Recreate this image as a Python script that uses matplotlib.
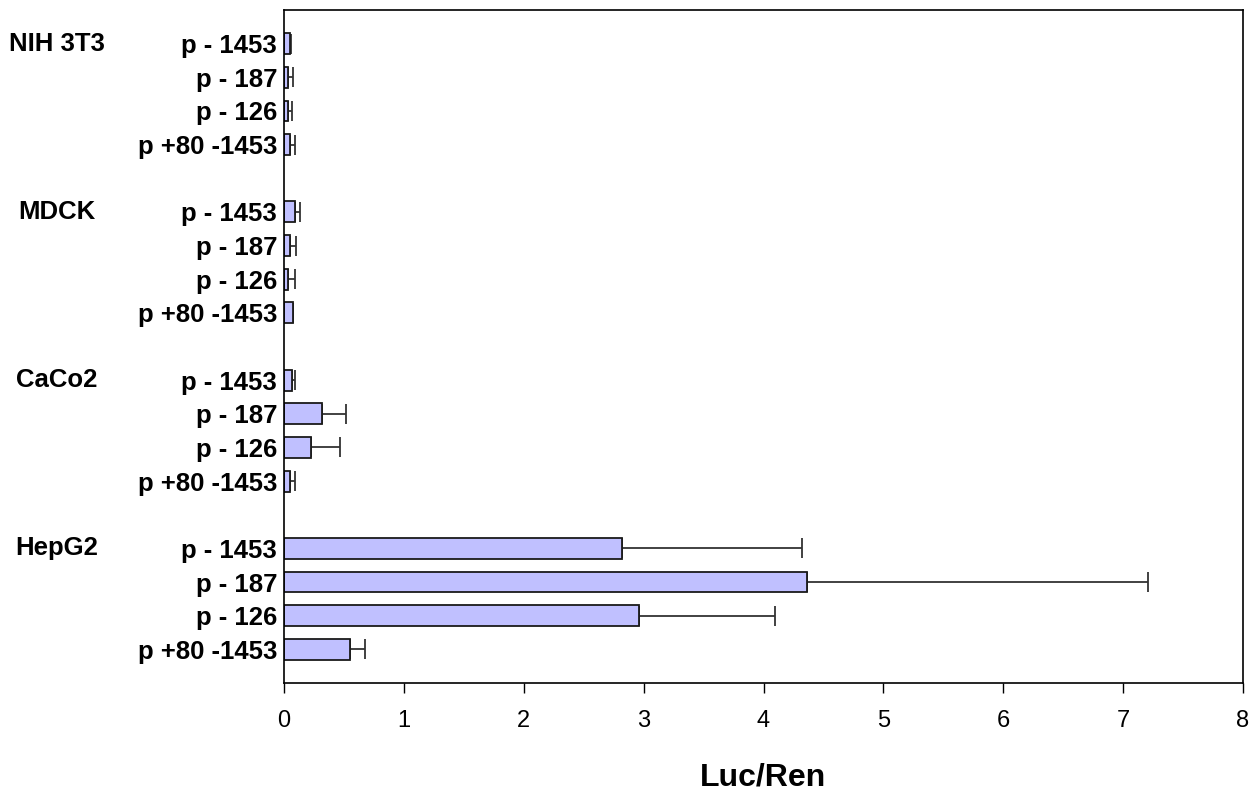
import numpy as np
import matplotlib
matplotlib.use('Agg')
import matplotlib.pyplot as plt
import matplotlib.transforms as mtransforms

plt.rcParams['font.family'] = ['Liberation Sans', 'DejaVu Sans']

# cell lines and promoter constructs
cell_lines = ['NIH 3T3', 'MDCK', 'CaCo2', 'HepG2']
constructs = ['p - 1453', 'p - 187', 'p - 126', 'p +80 -1453']

# mean Luc/Ren and error (upper side) per construct
nih_mean = [0.05, 0.033, 0.033, 0.047]
nih_err = [0.008, 0.042, 0.031, 0.045]
mdck_mean = [0.089, 0.053, 0.033, 0.075]
mdck_err = [0.045, 0.047, 0.056, 0.0]
caco_mean = [0.07, 0.32, 0.226, 0.053]
caco_err = [0.02, 0.20, 0.244, 0.042]
hep_mean = [2.82, 4.36, 2.96, 0.55]
hep_err = [1.50, 2.85, 1.14, 0.125]

means = [nih_mean, mdck_mean, caco_mean, hep_mean]
errs = [nih_err, mdck_err, caco_err, hep_err]

fig = plt.figure(figsize=(12.53, 7.92), dpi=100)
ax = fig.add_axes([284 / 1253, 1 - 683 / 792, (1243 - 284) / 1253, (683 - 10) / 792])

# one blank slot between the cell line groups
pos, vals, err, labels = [], [], [], []
for g in range(len(cell_lines)):
    for i in range(len(constructs)):
        pos.append(g * 5 + i)
        vals.append(means[g][i])
        err.append(errs[g][i])
        labels.append(constructs[i])
pos = np.array(pos)

ax.barh(pos, vals, height=0.62, color='#c0c0ff', edgecolor='#1a1a1a', linewidth=1.3, zorder=2)
ax.errorbar(vals, pos, xerr=[np.zeros(len(err)), err], fmt='none', ecolor='#333333',
            elinewidth=1.3, capsize=7.5, capthick=1.3, zorder=1)

ax.set_ylim(19, -1)
ax.set_xlim(0, 8)
ax.set_yticks(pos)
ax.set_yticklabels(labels, fontsize=18.5, fontweight='bold')
ax.tick_params(axis='y', length=0, pad=5)
ax.set_xticks(range(9))
ax.tick_params(axis='x', length=7.5, width=1, direction='out', labelsize=17, pad=12)
for s in ax.spines.values():
    s.set_linewidth(1.2)

ax.set_xlabel('Luc/Ren', fontsize=23, fontweight='bold', labelpad=22)

# group names on the far left
trans = mtransforms.blended_transform_factory(fig.transFigure, ax.transData)
for g, name in enumerate(cell_lines):
    ax.text(57 / 1253, g * 5, name, transform=trans, ha='center', va='center',
            fontsize=18.5, fontweight='bold')

fig.savefig('out.png', dpi=100, facecolor='white')
